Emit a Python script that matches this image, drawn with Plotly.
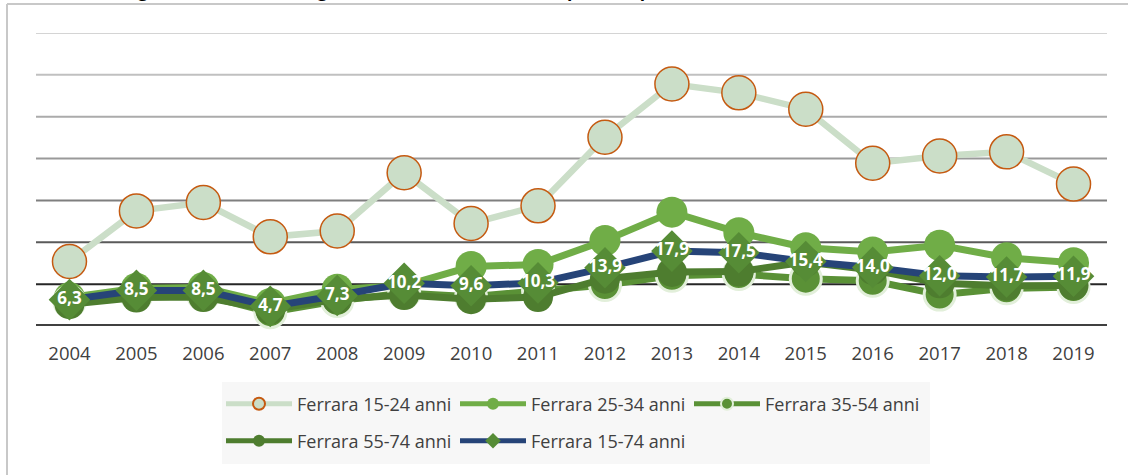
import plotly.graph_objects as go

# ---------------- data ----------------
years = [2004, 2005, 2006, 2007, 2008, 2009, 2010, 2011,
         2012, 2013, 2014, 2015, 2016, 2017, 2018, 2019]
year_labels = [str(y) for y in years]

ferrara_15_24 = [15.4, 27.5, 29.5, 21.3, 22.7, 36.6, 24.5, 28.7,
                 45.1, 57.8, 55.7, 51.8, 38.9, 40.6, 41.6, 33.9]
ferrara_25_34 = [6.8, 9.0, 9.2, 5.4, 8.8, 9.6, 14.2, 14.7,
                 20.4, 27.2, 22.3, 18.7, 17.7, 19.3, 16.3, 15.1]
ferrara_35_54 = [5.8, 7.4, 7.4, 3.3, 6.0, 7.9, 7.0, 8.5,
                 9.8, 12.0, 12.4, 11.3, 10.8, 7.5, 9.0, 9.3]
ferrara_55_74 = [5.2, 6.8, 6.9, 3.9, 6.4, 7.4, 6.4, 6.9,
                 11.3, 12.9, 13.0, 15.3, 13.4, 10.2, 9.6, 9.7]
ferrara_15_74 = [6.3, 8.5, 8.5, 4.7, 7.3, 10.2, 9.6, 10.3,
                 13.9, 17.9, 17.5, 15.4, 14.0, 12.0, 11.7, 11.9]

series_names = ["Ferrara 15-24 anni", "Ferrara 25-34 anni", "Ferrara 35-54 anni",
                "Ferrara 55-74 anni", "Ferrara 15-74 anni"]

grid_values = [10, 20, 30, 40, 50, 60, 70]
grid_colors = ["#262626", "#5A5A5A", "#7F7F7F", "#999999", "#ABABAB", "#C0C0C0", "#D4D4D4"]

title_text = ("Figura 6 \u2013 Andamento generale del tasso di disoccupazione per classe di età, "
              "Ferrara, 2004-2019 (valori %)")

# ---------------- layout geometry ----------------
W, H = 1128, 475
L, R, T, B = 36, 21, 33, 149
PW, PH = W - L - R, H - T - B


def px_x(p):
    """window pixel x -> paper x"""
    return (p - L) / PW


def px_y(p):
    """window pixel y -> paper y"""
    return (H - B - p) / PH


FONT = "Open Sans"
fig = go.Figure()

fig.add_trace(go.Scatter(
    x=years, y=ferrara_15_24, name=series_names[0], mode="lines+markers",
    line=dict(color="#CBDEC8", width=6.5),
    marker=dict(size=34, color="#CBDEC8", line=dict(color="#C55A11", width=1.5)),
    cliponaxis=False, legend="legend"))

fig.add_trace(go.Scatter(
    x=years, y=ferrara_25_34, name=series_names[1], mode="lines+markers",
    line=dict(color="#70AD47", width=7),
    marker=dict(size=31, color="#70AD47"),
    cliponaxis=False, legend="legend"))

fig.add_trace(go.Scatter(
    x=years, y=ferrara_35_54, name=series_names[2], mode="lines+markers",
    line=dict(color="#5A9136", width=7),
    marker=dict(size=31, color="#5A9136", line=dict(color="#E2EFDA", width=3)),
    cliponaxis=False, legend="legend"))

fig.add_trace(go.Scatter(
    x=years, y=ferrara_55_74, name=series_names[3], mode="lines+markers",
    line=dict(color="#4E7D2F", width=7),
    marker=dict(size=30, color="#4E7D2F"),
    cliponaxis=False, legend="legend2"))

fig.add_trace(go.Scatter(
    x=years, y=ferrara_15_74, name=series_names[4], mode="lines+markers",
    line=dict(color="#264478", width=7),
    marker=dict(size=32, symbol="diamond", color="#568C36"),
    cliponaxis=False, legend="legend2"))

fig.add_trace(go.Scatter(
    x=years, y=ferrara_15_74, mode="text", showlegend=False, hoverinfo="skip",
    text=[f"{v:.1f}".replace(".", ",") for v in ferrara_15_74],
    textposition="middle center",
    textfont=dict(family=FONT, size=17, color="white", weight="bold"),
    cliponaxis=False))

shapes = []
# legend background
shapes.append(dict(type="rect", xref="paper", yref="paper",
                   x0=px_x(222), x1=px_x(930), y0=px_y(464), y1=px_y(382),
                   fillcolor="#F7F7F7", line=dict(width=0), layer="below"))
# outer frame (top and left)
shapes.append(dict(type="line", xref="paper", yref="paper",
                   x0=px_x(7), x1=px_x(1128), y0=px_y(4), y1=px_y(4),
                   line=dict(color="#C8C8C8", width=2), layer="below"))
shapes.append(dict(type="line", xref="paper", yref="paper",
                   x0=px_x(7), x1=px_x(7), y0=px_y(4), y1=px_y(475),
                   line=dict(color="#C8C8C8", width=2), layer="below"))
# gridlines with progressively darker colours
for gv, gc in zip(grid_values, grid_colors):
    shapes.append(dict(type="line", xref="paper", yref="y", x0=0, x1=1, y0=gv, y1=gv,
                       line=dict(color=gc, width=2), layer="below"))
# axis baseline
shapes.append(dict(type="line", xref="paper", yref="y", x0=0, x1=1, y0=0, y1=0,
                   line=dict(color="#404040", width=4), layer="below"))

legend_common = dict(orientation="h", bgcolor="rgba(0,0,0,0)",
                     font=dict(family=FONT, size=18, color="#404040"),
                     entrywidthmode="pixels", entrywidth=153,
                     itemwidth=66, itemsizing="constant",
                     xanchor="left", yanchor="middle", traceorder="normal")

fig.update_layout(
    width=W, height=H,
    margin=dict(l=L, r=R, t=T, b=B, autoexpand=False),
    paper_bgcolor="white", plot_bgcolor="white",
    shapes=shapes,
    showlegend=True,
    hovermode=False,
    legend=dict(x=px_x(221), y=px_y(404), **legend_common),
    legend2=dict(x=px_x(221), y=px_y(441), **legend_common),
    xaxis=dict(range=[2003.5, 2019.5], tickvals=years, ticktext=year_labels,
               showgrid=False, zeroline=False, showline=False, ticks="",
               ticklabelstandoff=14,
               tickfont=dict(family=FONT, size=18.5, color="#404040")),
    yaxis=dict(range=[0, 70], showgrid=False, zeroline=False, showline=False,
               showticklabels=False, ticks=""),
    annotations=[dict(text=title_text, xref="paper", yref="paper",
                      x=px_x(580), y=px_y(-9.5), xanchor="center", yanchor="middle",
                      showarrow=False,
                      font=dict(family=FONT, size=17.5, color="black", weight="bold"))],
)

fig.write_html("out.html", config={"displayModeBar": False},
               post_script="document.body.style.margin='0';document.body.style.overflow='hidden';")
